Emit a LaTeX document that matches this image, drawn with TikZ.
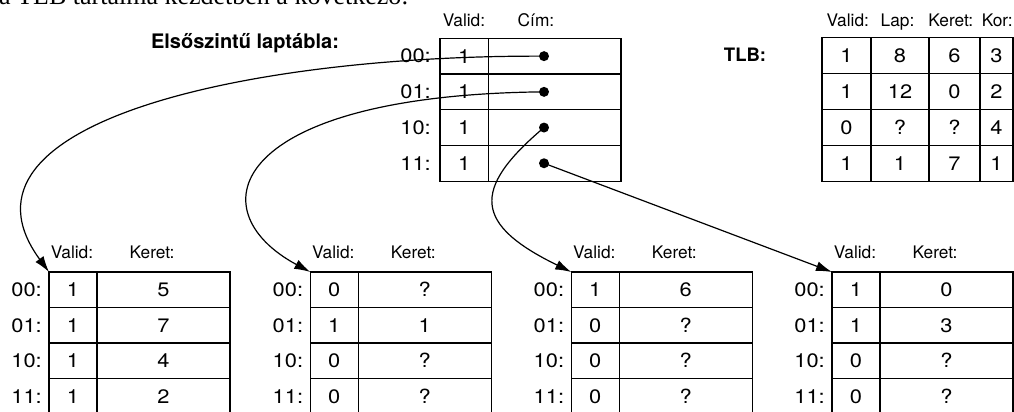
\documentclass[tikz,border=0pt]{standalone}
\usepackage{fontspec}
\setmainfont{TeX Gyre Heros}
\newfontfamily\capserif{Liberation Serif}
\usetikzlibrary{arrows.meta}
\newcommand\cellfont{\fontsize{19.5}{21}\selectfont}
\newcommand\headfont{\fontsize{17.3}{19}\selectfont}
\newcommand\bigbold{\fontsize{20}{22}\selectfont\bfseries}
\newcommand\tlbfont{\fontsize{18.5}{20}\selectfont\bfseries}
\newcommand\sx[1]{\scalebox{1.12}[1]{#1}}
\tikzset{
  cell/.style={draw=black, line width=1.2pt, inner sep=0pt, outer sep=0pt,
    anchor=north west, minimum height=35.5pt, font=\cellfont},
  lbl/.style={inner sep=0pt, font=\headfont},
  rowlbl/.style={inner sep=0pt, font=\cellfont, anchor=east},
  dot/.style={circle, fill=black, inner sep=0pt, minimum size=10pt},
  link/.style={line width=1.2pt, -{Latex[length=16pt,width=10pt]}},
}
\newcommand\lowtable[3]{%
  \node[lbl, anchor=base] at (#2+23,258.3) {Valid:};
  \node[lbl, anchor=base] at (#2+103,258.3) {Keret:};
  \foreach \r/\v/\k [count=\i from 0] in {#3} {
    \node[cell, minimum width=48pt] (#1v\i) at (#2,272+35.5*\i) {\sx{\v}};
    \node[cell, minimum width=133pt] (#1k\i) at (#2+48,272+35.5*\i) {\sx{\k}};
    \node[rowlbl] at (#2-7,289.75+35.5*\i) {\sx{\r:}};
  }%
}
\begin{document}
\begin{tikzpicture}[x=1pt,y=-1pt]
\useasboundingbox (0,0) rectangle (1014,412);
% clipped sentence at the top
\node[inner sep=0pt, anchor=base west, font=\capserif\fontsize{26}{28}\selectfont] (intro) at (-1,5) {a TLB tartalma kezdetben a következő:};
% first level page table
\node[inner sep=0pt, anchor=base, font=\bigbold] (ptitle) at (245,48.5) {Elsőszintű laptábla:};
\node[lbl, anchor=base] (ph1) at (464,26.5) {Valid:};
\node[lbl, anchor=base] (ph2) at (536,26.5) {Cím:};
\foreach \r/\v [count=\i from 0] in {00/1,01/1,10/1,11/1} {
  \node[cell, minimum width=48.6pt, minimum height=35.7pt] (pv\i) at (440,38.3+35.7*\i) {\sx{\v}};
  \node[cell, minimum width=132.4pt, minimum height=35.7pt] (pc\i) at (488.6,38.3+35.7*\i) {};
  \node[rowlbl] (pr\i) at (431,56.15+35.7*\i) {\sx{\r:}};
  \node[dot] (d\i) at (544,56.15+35.7*\i) {};
}
% TLB
\node[inner sep=0pt, anchor=base, font=\tlbfont] (tlbt) at (745,61.7) {TLB:};
\node[lbl, anchor=base] (th1) at (847.8,27) {Valid:};
\node[lbl, anchor=base] (th2) at (897.5,27) {Lap:};
\node[lbl, anchor=base] (th3) at (950.8,27) {Keret:};
\node[lbl, anchor=base] (th4) at (997.2,27) {Kor:};
\foreach \a/\b/\c/\d [count=\i from 0] in {1/8/6/3,1/12/0/2,0/?/?/4,1/1/7/1} {
  \node[cell, minimum width=49pt, minimum height=36pt] (ta\i) at (822,37.5+36*\i) {\sx{\a}};
  \node[cell, minimum width=58pt, minimum height=36pt] (tb\i) at (871,37.5+36*\i) {\sx{\b}};
  \node[cell, minimum width=51pt, minimum height=36pt] (tc\i) at (929,37.5+36*\i) {\sx{\c}};
  \node[cell, minimum width=33pt, minimum height=36pt] (td\i) at (980,37.5+36*\i) {\sx{\d}};
}
% second level page tables
\lowtable{ta}{49}{00/1/5,01/1/7,10/1/4,11/1/2}
\lowtable{tb}{310.3}{00/0/?,01/1/1,10/0/?,11/0/?}
\lowtable{tc}{571.3}{00/1/6,01/0/?,10/0/?,11/0/?}
\lowtable{td}{832}{00/1/0,01/1/3,10/0/?,11/0/?}
% pointers
\draw[link] (d0.center) .. controls (250,55) and (-61,122) .. (tav0.north west);
\draw[link] (d1.center) .. controls (230,95) and (195,210) .. (tbv0.north west);
\draw[link] (d2.center) .. controls (470,190) and (475,225) .. (tcv0.north west);
\draw[link] (d3.center) -- (tdv0.north west);
\end{tikzpicture}
\end{document}
